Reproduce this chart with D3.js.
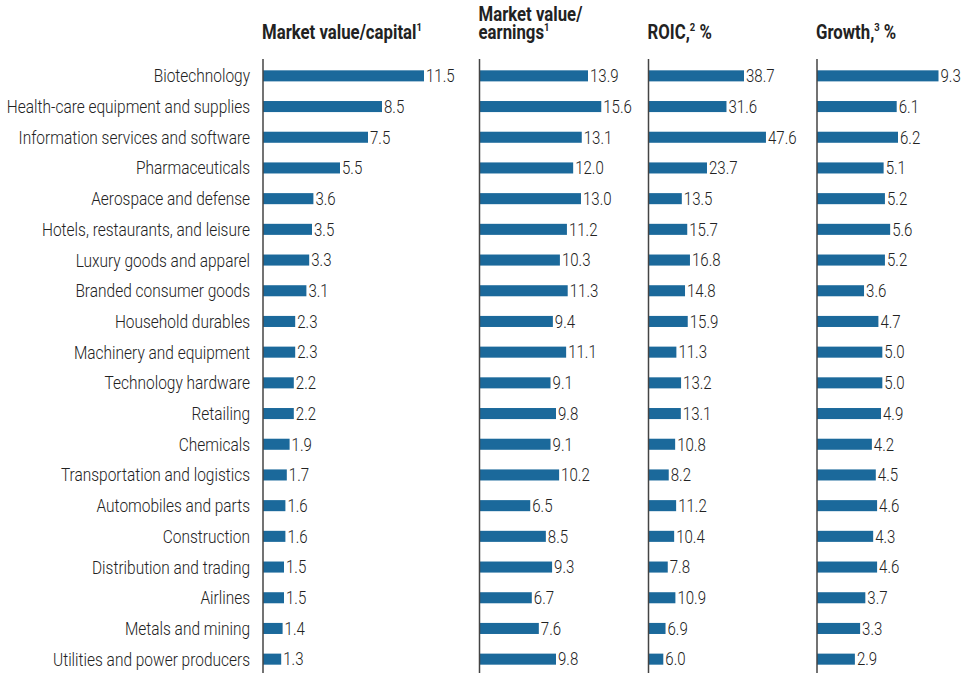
<!DOCTYPE html>
<html>
<head>
<meta charset="utf-8">
<script src="https://cdn.jsdelivr.net/npm/d3@7"></script>
<style>
  body { margin: 0; background: #fff; }
  svg text { font-family: "Roboto", "Liberation Sans", sans-serif; fill: #333; }
</style>
</head>
<body>
<svg id="chart" width="965" height="673"></svg>
<script>
const categories = [
  "Biotechnology", "Health-care equipment and supplies", "Information services and software",
  "Pharmaceuticals", "Aerospace and defense", "Hotels, restaurants, and leisure",
  "Luxury goods and apparel", "Branded consumer goods", "Household durables",
  "Machinery and equipment", "Technology hardware", "Retailing", "Chemicals",
  "Transportation and logistics", "Automobiles and parts", "Construction",
  "Distribution and trading", "Airlines", "Metals and mining", "Utilities and power producers"
];
const marketValueCapital = [11.5, 8.5, 7.5, 5.5, 3.6, 3.5, 3.3, 3.1, 2.3, 2.3, 2.2, 2.2, 1.9, 1.7, 1.6, 1.6, 1.5, 1.5, 1.4, 1.3];
const marketValueEarnings = [13.9, 15.6, 13.1, 12.0, 13.0, 11.2, 10.3, 11.3, 9.4, 11.1, 9.1, 9.8, 9.1, 10.2, 6.5, 8.5, 9.3, 6.7, 7.6, 9.8];
const roic = [38.7, 31.6, 47.6, 23.7, 13.5, 15.7, 16.8, 14.8, 15.9, 11.3, 13.2, 13.1, 10.8, 8.2, 11.2, 10.4, 7.8, 10.9, 6.9, 6.0];
const growth = [9.3, 6.1, 6.2, 5.1, 5.2, 5.6, 5.2, 3.6, 4.7, 5.0, 5.0, 4.9, 4.2, 4.5, 4.6, 4.3, 4.6, 3.7, 3.3, 2.9];

// each title line: [text, superscript, trailing text]
const panels = [
  { title: [["Market value/capital", "1"]], values: marketValueCapital, x0: 263, domainMax: 11.5, rangeW: 161 },
  { title: [["Market value/"], ["earnings", "1"]], values: marketValueEarnings, x0: 479.5, domainMax: 13.9, rangeW: 108.5 },
  { title: [["ROIC,", "2", " %"]], values: roic, x0: 648.5, domainMax: 38.7, rangeW: 95.5 },
  { title: [["Growth,", "3", " %"]], values: growth, x0: 817, domainMax: 9.3, rangeW: 121.5 }
];

// condensed look: draw text at origin and squeeze horizontally
const squeeze = (x, y, sx) => `translate(${x},${y}) scale(${sx},1)`;

const svg = d3.select("#chart");
const barColor = "#1b699b";
const lineGap = 18.5;

const y = d3.scaleBand()
  .domain(categories)
  .range([60.5, 674.5])
  .paddingInner(0.64)
  .paddingOuter(0.32);

// category labels
svg.append("g")
  .selectAll("text")
  .data(categories)
  .join("text")
  .attr("transform", d => squeeze(250, y(d) + y.bandwidth() / 2, 0.86))
  .attr("dy", "0.36em")
  .attr("text-anchor", "end")
  .attr("font-size", 18)
  .attr("font-weight", 300)
  .style("fill", "#222")
  .text(d => d);

panels.forEach(p => {
  const x = d3.scaleLinear().domain([0, p.domainMax]).range([p.x0, p.x0 + p.rangeW]);
  const g = svg.append("g");

  // title (multi-line titles share one text element)
  const nLines = p.title.length;
  const t = g.append("text")
    .attr("transform", squeeze(p.x0 - 1, 39 - (nLines - 1) * lineGap, 0.86))
    .attr("font-size", 19.5)
    .attr("font-weight", "bold")
    .style("fill", "#222");
  p.title.forEach((line, i) => {
    t.append("tspan").attr("x", 0).attr("dy", i === 0 ? 0 : lineGap).text(line[0]);
    if (line[1]) {
      t.append("tspan").attr("font-size", 11).attr("dy", -8).text(line[1]);
      t.append("tspan").attr("dy", 8).text(line[2] || "");
    }
  });

  // bars
  g.selectAll("rect")
    .data(p.values)
    .join("rect")
    .attr("x", x(0))
    .attr("y", (d, i) => y(categories[i]))
    .attr("width", d => x(d) - x(0))
    .attr("height", y.bandwidth())
    .attr("fill", barColor);

  // value labels
  g.selectAll("text.val")
    .data(p.values)
    .join("text")
    .attr("class", "val")
    .attr("transform", (d, i) => squeeze(x(d) + 2, y(categories[i]) + y.bandwidth() / 2, 0.86))
    .attr("dy", "0.36em")
    .attr("font-size", 17.5)
    .attr("font-weight", 300)
    .style("fill", "#222")
    .text(d => d.toFixed(1));

  // axis line
  g.append("line")
    .attr("x1", x(0)).attr("x2", x(0))
    .attr("y1", 59).attr("y2", 673)
    .attr("stroke", "#444")
    .attr("stroke-width", 1.5);
});
</script>
</body>
</html>
